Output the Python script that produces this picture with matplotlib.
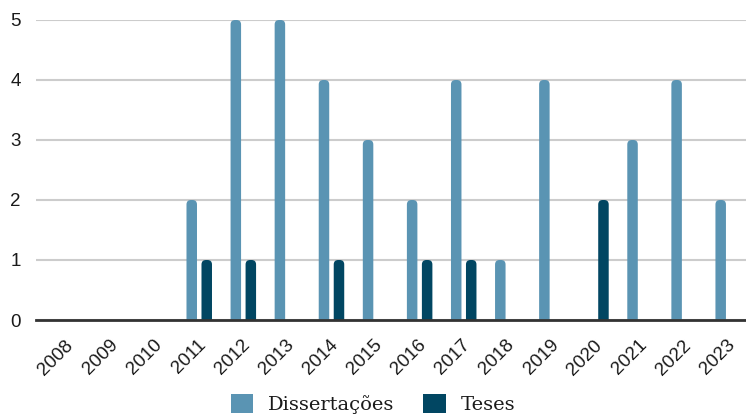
import matplotlib
matplotlib.use("Agg")
import matplotlib.pyplot as plt
import matplotlib.transforms as mtransforms
from matplotlib.patches import FancyBboxPatch, Patch
import numpy as np

plt.rcParams["font.family"] = ["Liberation Sans", "DejaVu Sans"]

years = ["2008", "2009", "2010", "2011", "2012", "2013", "2014", "2015",
         "2016", "2017", "2018", "2019", "2020", "2021", "2022", "2023"]
dissertacoes = [0, 0, 0, 2, 5, 5, 4, 3, 2, 4, 1, 4, 0, 3, 4, 2]
teses = [0, 0, 0, 1, 1, 0, 1, 0, 1, 1, 0, 0, 2, 0, 0, 0]
yticks = [0, 1, 2, 3, 4, 5]
series_names = ["Dissertações", "Teses"]
colors = ["#5A94B3", "#014662"]

W, H = 746, 419
fig = plt.figure(figsize=(W / 100, H / 100), dpi=100)
ax_left, ax_right, ax_top, ax_bot = 36, 746, 20, 320
ax = fig.add_axes([ax_left / W, (H - ax_bot) / H, (ax_right - ax_left) / W, (ax_bot - ax_top) / H])

px_per_cat = 44.08
center0 = 67.0
xmin = (ax_left - center0) / px_per_cat
xmax = (ax_right - center0) / px_per_cat
ax.set_xlim(xmin, xmax)
ax.set_ylim(0, 5)

x_per_px = 1 / px_per_cat
y_per_px = 5 / 300.0
aspect = y_per_px / x_per_px

bw = 10.5 * x_per_px
off = 7.5 * x_per_px
r = 4.5 * x_per_px
x = np.arange(len(years))

for vals, sign, col in [(dissertacoes, -1, colors[0]), (teses, 1, colors[1])]:
    for xi, v in zip(x, vals):
        if v <= 0:
            continue
        bottom = -0.2
        p = FancyBboxPatch((xi + sign * off - bw / 2, bottom), bw, v - bottom,
                           boxstyle=f"round,pad=0,rounding_size={r}",
                           mutation_aspect=aspect, facecolor=col, edgecolor="none",
                           zorder=3)
        ax.add_patch(p)

ax.set_yticks(yticks)
ax.set_yticklabels([str(t) for t in yticks])
ax.grid(axis="y", color="#cccccc", linewidth=1.5, zorder=0)
ax.axhline(0, color="#333333", linewidth=2, zorder=4, clip_on=False)
for s in ax.spines.values():
    s.set_visible(False)
ax.tick_params(axis="y", length=0, pad=11, labelsize=13.5, labelcolor="#1a1a1a")
ax.set_xticks(x)
ax.set_xticklabels(years, rotation=45, ha="right", va="top")
ax.tick_params(axis="x", length=0, pad=12, labelsize=13.5, labelcolor="#1a1a1a")
shift = mtransforms.ScaledTranslation(10 / 100, 0, fig.dpi_scale_trans)
for lab in ax.get_xticklabels():
    lab.set_transform(lab.get_transform() + shift)

handles = [Patch(facecolor=c, edgecolor="none") for c in colors]
leg = fig.legend(handles, series_names, loc="center", bbox_to_anchor=(0.5, 15 / H),
                 ncol=2, frameon=False, prop={"family": "DejaVu Serif", "size": 14},
                 handlelength=1.15, handleheight=1.15, handletextpad=0.75,
                 columnspacing=1.5, borderaxespad=0)
for t in leg.get_texts():
    t.set_color("#1a1a1a")

fig.savefig("out.png", dpi=100)
